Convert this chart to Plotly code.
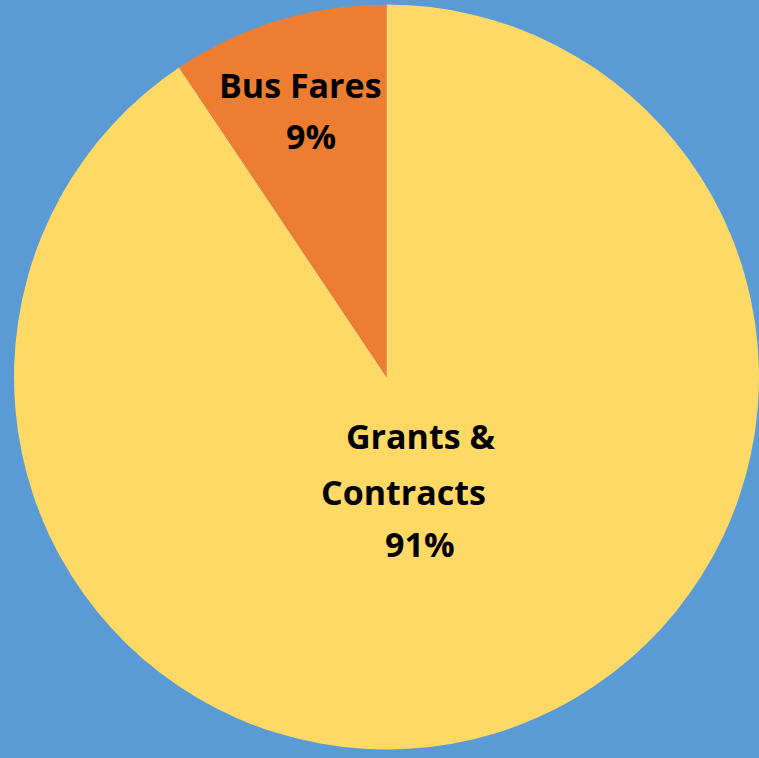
import plotly.graph_objects as go

labels = ["Grants & Contracts", "Bus Fares"]
values = [90.6, 9.4]
colors = ["#FFD966", "#ED7D31"]
label_lines = [["Bus Fares", "9%"], ["Grants &", "Contracts", "91%"]]

W, H = 759, 758

fig = go.Figure(go.Pie(
    labels=labels,
    values=values,
    sort=False,
    direction="clockwise",
    rotation=0,
    marker=dict(colors=colors, line=dict(width=0)),
    textinfo="none",
    hoverinfo="label+percent",
    showlegend=False,
    domain=dict(x=[14 / W, 1.0], y=[7 / H, 755 / H]),
))

# label line positions (pixel centers)
pos = [[(300, 85), (311, 136)], [(420, 436), (404, 492), (420, 544)]]
for lines, ps in zip(label_lines, pos):
    for txt, (px, py) in zip(lines, ps):
        fig.add_annotation(
            x=px / W, y=1 - py / H, xref="paper", yref="paper",
            text=txt, showarrow=False, xanchor="center", yanchor="middle",
            font=dict(family="Open Sans", size=34, color="#000000", weight="bold"),
        )

fig.update_layout(
    width=W, height=H,
    margin=dict(l=0, r=0, t=0, b=0),
    paper_bgcolor="#5B9BD5",
    plot_bgcolor="#5B9BD5",
)

fig.write_html(
    "out.html",
    config={"displayModeBar": False},
    post_script="document.body.style.margin='0';document.body.style.overflow='hidden';",
)
